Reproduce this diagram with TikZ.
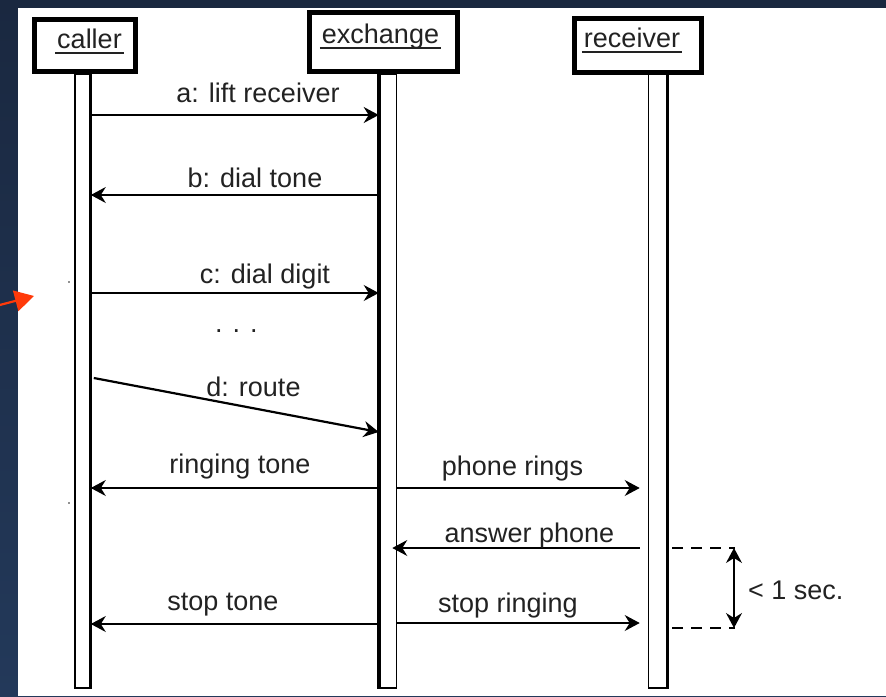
\documentclass[tikz,border=0pt]{standalone}
\usepackage{fontspec}
\setmainfont{Liberation Sans}
\usetikzlibrary{arrows.meta,positioning}

\definecolor{slidetop}{HTML}{1A2840}
\definecolor{slidebot}{HTML}{23395A}
\definecolor{pointer}{HTML}{FF3A0A}
\definecolor{ink}{HTML}{222222}

% underlined object name
\newsavebox{\namebox}
\newcommand{\objname}[1]{\sbox{\namebox}{#1}%
  \rlap{\hspace{-2pt}\rule[-6pt]{\dimexpr\wd\namebox+4pt\relax}{2.2pt}}\usebox{\namebox}}

\begin{document}
\begin{tikzpicture}[x=1pt,y=-1pt,
    objbox/.style={draw=black,line width=5pt,fill=white,inner sep=0pt},
    lifeline/.style={draw=black,line width=1.6pt,fill=white,inner sep=0pt,minimum width=15pt},
    msg/.style={line width=1.3pt,-{Stealth[length=15pt,width=16pt,inset=5pt]}},
    both/.style={line width=1.3pt,{Stealth[length=15pt,width=16pt,inset=5pt]}-{Stealth[length=15pt,width=16pt,inset=5pt]}},
    lbl/.style={font=\fontsize{27}{30}\selectfont,text=ink,anchor=base,inner sep=0pt}]
    \useasboundingbox (0,0) rectangle (886,696);

    % Slide background:
    \shade[top color=slidetop,bottom color=slidebot] (0,0) rectangle (886,696);
    \fill[white] (18,8) rectangle (886,696);
    \draw[pointer,line width=2.2pt,-{Triangle[length=19pt,width=21pt]}] (-4,306) -- (34,296);
    \foreach \y in {282,503}
        \fill[ink] (69,\y) circle (0.9);

    % Objects:
    \node[objbox,minimum width=101pt,minimum height=52pt] (caller)   at (85,45.5)  {};
    \node[objbox,minimum width=148pt,minimum height=59pt] (exchange) at (383.5,42) {};
    \node[objbox,minimum width=127pt,minimum height=54pt] (receiver) at (638,45.5) {};
    \node[lbl] (callername)   at (89.5,48) {\objname{caller}};
    \node[lbl] (exchangename) at (380.5,43) {\objname{exchange}};
    \node[lbl] (receivername) at (632,47)  {\objname{receiver}};

    % Lifelines:
    \node[lifeline,minimum width=15pt,minimum height=614pt] (cline) at (82.5,381) {};
    \node[lifeline,minimum width=17pt,minimum height=614pt] (xline) at (388,381)  {};
    \node[lifeline,minimum width=18pt,minimum height=614pt] (rline) at (657.5,381) {};
    \draw[line width=2.2pt] (cline.north east) -- (cline.south east);
    \draw[line width=3.6pt] (xline.north west) -- (xline.south west);
    \draw[line width=3pt]   (rline.north east) -- (rline.south east);

    \coordinate (rin) at ([xshift=-8pt]rline.west);
    \coordinate (xin) at ([xshift=-5pt]xline.east);

    % Messages:
    \draw[msg,line width=2.2pt] (cline.east |- 0,115) -- (xline.west |- 0,115);
    \draw[msg,line width=2.2pt] ([xshift=3pt]cline.east |- 0,378) -- (xline.west |- 0,432);
    \foreach \src/\dst/\y in {xline.west/cline.east/195, cline.east/xline.west/293,
                              xline.west/cline.east/488, xline.east/rin/488,
                              rin/xin/548,
                              xline.west/cline.east/624, xline.east/rin/623}
        \draw[msg] (\src |- 0,\y) -- (\dst |- 0,\y);

    % Message labels:
    \foreach \x/\y/\txt [count=\i] in {258/102/a: lift receiver, 255/187/b: dial tone,
                                       265/283/c: dial digit, 236.5/332/. . .,
                                       253.5/396/d: route, 240/473/ringing tone,
                                       512.5/475/phone rings, 529.5/542/answer phone,
                                       223/610/stop tone, 508/612/stop ringing}
        \node[lbl] (msg\i) at (\x,\y) {\txt};

    % Timing constraint:
    \coordinate (t1) at (735,548);
    \coordinate (t2) at (735,628);
    \draw[line width=1.4pt,dash pattern=on 11pt off 8pt] ([xshift=5pt]rline.east |- t1) -- (t1);
    \draw[line width=1.4pt,dash pattern=on 11pt off 8pt] ([xshift=5pt]rline.east |- t2) -- (t2);
    \draw[both] ([xshift=-1pt]t1) -- ([xshift=-1pt]t2);
    \node[lbl,anchor=base west] (limit) at (748,599) {< 1 sec.};
\end{tikzpicture}
\end{document}
